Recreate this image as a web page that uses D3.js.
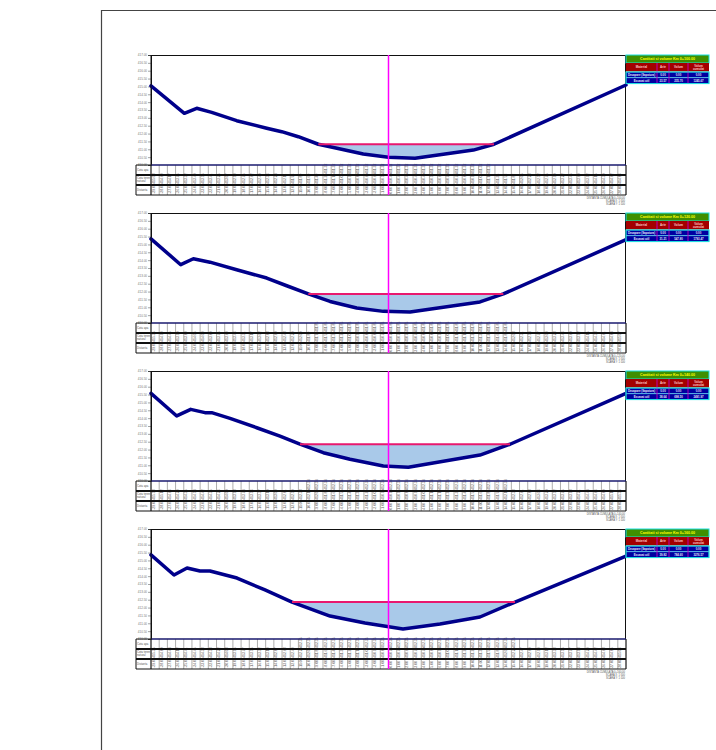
<!DOCTYPE html>
<html><head><meta charset="utf-8">
<script src="https://cdn.jsdelivr.net/npm/d3@7"></script>
<style>body{margin:0;background:#fff}svg{display:block;font-family:"Liberation Sans",Arial,sans-serif}</style>
</head><body>
<svg id="sheet" width="716" height="750"></svg>
<script>
// Cross-section stations (m from axis) and elevation ticks (m)
const stations = d3.range(-29, 30, 1);
const elevTicks = [410.0, 410.5, 411.0, 411.5, 412.0, 412.5, 413.0, 413.5, 414.0, 414.5, 415.0, 415.5, 416.0, 416.5, 417.0];

// Ground profiles, one per section
const dist1 = [-29, -24.93, -23.42, -21.59, -18.54, -14.87, -13.04, -11.01, -8.57, -7.14, -3.08, 0.0, 3.24, 10.36, 12.88, 29];
const elev1 = [415.03, 413.29, 413.61, 413.35, 412.82, 412.34, 412.12, 411.80, 411.32, 411.16, 410.70, 410.49, 410.43, 410.95, 411.32, 415.09];
const dist2 = [-29, -25.37, -23.83, -21.80, -18.54, -14.87, -12.43, -9.79, -7.14, -3.88, -0.63, 2.63, 11.17, 14.02, 29];
const elev2 = [415.35, 413.71, 414.09, 413.87, 413.39, 412.86, 412.37, 411.85, 411.37, 410.95, 410.74, 410.70, 411.34, 411.85, 415.30];
const dist3 = [-29, -25.86, -24.15, -22.41, -21.59, -19.35, -16.09, -13.25, -10.81, -7.96, -4.70, -0.63, 2.42, 11.17, 14.84, 29];
const elev3 = [415.58, 414.14, 414.56, 414.35, 414.35, 413.99, 413.39, 412.86, 412.34, 411.80, 411.38, 410.95, 410.87, 411.65, 412.34, 415.58];
const dist4 = [-29, -26.19, -24.60, -23.02, -21.80, -18.50, -15.08, -11.78, -7.14, -2.87, 1.77, 6.29, 11.17, 15.45, 29];
const elev4 = [415.35, 414.07, 414.52, 414.33, 414.33, 413.88, 413.12, 412.35, 411.46, 411.02, 410.64, 410.95, 411.40, 412.35, 415.28];

// Water level and its extent for each section
const waterLevel = [411.32, 411.85, 412.34, 412.35];
const waterFrom = [-8.57, -9.79, -10.81, -11.78];
const waterTo = [12.88, 14.02, 14.84, 15.45];

// Quantities table
const chainage = ["0+100.00", "0+120.00", "0+140.00", "0+160.00"];
const qtyHeader = ["Material", "Arie", "Volum", "Volum cumulat"];
const stripArea = ["0.00", "0.00", "0.00", "0.00"];
const stripVol = ["0.00", "0.00", "0.00", "0.00"];
const stripCum = ["0.00", "0.00", "0.00", "0.00"];
const cutArea = ["23.57", "31.21", "38.64", "39.82"];
const cutVol = ["235.70", "547.80", "698.50", "784.60"];
const cutCum = ["1245.67", "1793.47", "2491.97", "3276.57"];
const rowLabels = [["Cota apa"], ["Cota teren", "natural"], ["Distanta"]];

const sections = [
  {dist: dist1, elev: elev1},
  {dist: dist2, elev: elev2},
  {dist: dist3, elev: elev3},
  {dist: dist4, elev: elev4}
];

const svg = d3.select("#sheet");

// sheet frame
svg.append("path").attr("d", "M101.5,750V10.5H716")
  .attr("fill", "none").attr("stroke", "#444").attr("stroke-width", 1.2);

const X0 = 151, X1 = 626, PLOT_H = 110, ROW_H = 10, LABEL_X = 136;
const panelTops = [55, 213, 371, 529];

function groundAt(d, e, s) {
  for (let k = 0; k < d.length - 1; k++) {
    if (s >= d[k] && s <= d[k + 1]) {
      const t = (s - d[k]) / (d[k + 1] - d[k]);
      return e[k] + t * (e[k + 1] - e[k]);
    }
  }
  return s < d[0] ? e[0] : e[e.length - 1];
}

sections.forEach((sec, i) => {
  const top = panelTops[i];
  const g = svg.append("g");
  const x = d3.scaleLinear().domain([stations[0], stations[stations.length - 1]]).range([X0, X1]);
  const y = d3.scaleLinear().domain([elevTicks[0], elevTicks[elevTicks.length - 1]]).range([top + PLOT_H, top]);
  const wl = waterLevel[i], ws = waterFrom[i], we = waterTo[i];
  const bottom = top + PLOT_H;

  // water body
  const poly = [[ws, wl]];
  sec.dist.forEach((d, k) => { if (d > ws && d < we) poly.push([d, sec.elev[k]]); });
  poly.push([we, wl]);
  g.append("path")
    .attr("d", d3.line().x(p => x(p[0])).y(p => y(p[1]))(poly) + "Z")
    .attr("fill", "#a9c9e9");

  // plot frame: top and right
  g.append("path").attr("d", `M${X0},${top + 0.5}H${X1 - 0.5}V${bottom}`)
    .attr("fill", "none").attr("stroke", "#111").attr("stroke-width", 1);

  // elevation axis
  const ax = g.append("g").attr("transform", `translate(${X0},0)`)
    .call(d3.axisLeft(y).tickValues(elevTicks).tickSize(3).tickPadding(1).tickFormat(d3.format(".2f")));
  ax.select(".domain").attr("stroke", "#111");
  ax.selectAll(".tick line").attr("stroke", "#666").attr("stroke-width", 0.6);
  ax.selectAll(".tick text").attr("font-size", 3).attr("fill", "#777").attr("font-family", "Liberation Sans, Arial");

  // ground profile
  g.append("path")
    .datum(sec.dist.map((d, k) => [d, sec.elev[k]]))
    .attr("d", d3.line().x(p => x(p[0])).y(p => y(p[1])))
    .attr("fill", "none").attr("stroke", "#00008b").attr("stroke-width", 3.5)
    .attr("stroke-linejoin", "round").attr("stroke-linecap", "round");

  // water surface
  g.append("line")
    .attr("x1", x(ws)).attr("x2", x(we)).attr("y1", y(wl)).attr("y2", y(wl))
    .attr("stroke", "#e8196e").attr("stroke-width", 2);

  // band table under the profile
  const r = [bottom, bottom + ROW_H, bottom + 2 * ROW_H, bottom + 3 * ROW_H];
  const tb = g.append("g");
  stations.forEach(s => {
    tb.append("line").attr("x1", x(s)).attr("x2", x(s)).attr("y1", r[0]).attr("y2", r[3])
      .attr("stroke", "#999").attr("stroke-width", 0.8);
  });
  const cellText = (s, row, txt) => {
    const tx = x(s) + 3.6, ty = r[row + 1] - 1.2;
    tb.append("text").attr("transform", `translate(${tx},${ty}) rotate(-90)`)
      .attr("font-size", 3.4).attr("fill", "#555").text(txt);
  };
  stations.slice(0, -1).forEach(s => {
    if (s >= ws && s <= we) cellText(s, 0, wl.toFixed(2));
    cellText(s, 1, groundAt(sec.dist, sec.elev, s).toFixed(2));
    cellText(s, 2, s.toFixed(2));
  });
  tb.append("line").attr("x1", LABEL_X).attr("x2", X0).attr("y1", r[0]).attr("y2", r[0])
    .attr("stroke", "#111").attr("stroke-width", 1);
  tb.append("line").attr("x1", X0).attr("x2", X1).attr("y1", r[0]).attr("y2", r[0])
    .attr("stroke", "#1a1a6e").attr("stroke-width", 1.5);
  [1, 2].forEach(k => tb.append("line").attr("x1", LABEL_X).attr("x2", X1).attr("y1", r[k]).attr("y2", r[k])
    .attr("stroke", "#111").attr("stroke-width", 2));
  tb.append("line").attr("x1", LABEL_X).attr("x2", X1).attr("y1", r[3]).attr("y2", r[3])
    .attr("stroke", "#111").attr("stroke-width", 1.2);
  [LABEL_X, X0, X1].forEach(vx => tb.append("line").attr("x1", vx).attr("x2", vx)
    .attr("y1", vx === X0 ? top : r[0]).attr("y2", r[3]).attr("stroke", "#111").attr("stroke-width", 1));
  rowLabels.forEach((lines, k) => {
    lines.forEach((ln, j) => {
      tb.append("text").attr("x", LABEL_X + 1).attr("y", r[k] + 5.5 + (j - (lines.length - 1) / 2) * 3)
        .attr("font-size", 2.8).attr("fill", "#555").text(ln);
    });
  });

  // section axis
  g.append("line").attr("x1", x(0)).attr("x2", x(0)).attr("y1", top).attr("y2", r[3])
    .attr("stroke", "#ff00ff").attr("stroke-width", 1.5);

  // quantities box
  const qx = X1;
  const cx = [qx, qx + 31, qx + 43, qx + 62, qx + 83];
  const qt = g.append("g");
  qt.append("rect").attr("x", qx).attr("y", top).attr("width", 83).attr("height", 8)
    .attr("fill", "#3f8f00").attr("stroke", "#19e0e0").attr("stroke-width", 1);
  qt.append("text").attr("x", qx + 41.5).attr("y", top + 5.3).attr("text-anchor", "middle")
    .attr("font-size", 3.6).attr("font-weight", "bold").attr("fill", "#ffff00")
    .text("Cantitati si volume Km " + chainage[i]);
  qt.append("rect").attr("x", qx).attr("y", top + 8).attr("width", 83).attr("height", 8.5)
    .attr("fill", "#a30000");
  qtyHeader.forEach((h, k) => {
    const mid = (cx[k] + cx[k + 1]) / 2;
    if (k === 3) {
      ["Volum", "cumulat"].forEach((t, j) => qt.append("text").attr("x", mid).attr("y", top + 11.6 + j * 3.2)
        .attr("text-anchor", "middle").attr("font-size", 2.9).attr("font-weight", "bold").attr("fill", "#ffc8c8").text(t));
    } else {
      qt.append("text").attr("x", mid).attr("y", top + 13.3).attr("text-anchor", "middle")
        .attr("font-size", 3).attr("font-weight", "bold").attr("fill", "#ffc8c8").text(h);
    }
  });
  qt.append("line").attr("x1", qx).attr("x2", qx + 83).attr("y1", top + 16.7).attr("y2", top + 16.7)
    .attr("stroke", "#b89060").attr("stroke-width", 0.8);
  const dataRows = [
    ["Decapare (Sapatura)", stripArea[i], stripVol[i], stripCum[i]],
    ["Excavat util", cutArea[i], cutVol[i], cutCum[i]]
  ];
  dataRows.forEach((row, j) => {
    const ry = top + 17 + j * 5.8;
    qt.append("rect").attr("x", qx).attr("y", ry).attr("width", 83).attr("height", 5.6)
      .attr("fill", "#0000a0").attr("stroke", "#5ad0f0").attr("stroke-width", 0.6);
    row.forEach((t, k) => qt.append("text").attr("x", (cx[k] + cx[k + 1]) / 2).attr("y", ry + 4)
      .attr("text-anchor", "middle").attr("font-size", 2.8).attr("font-weight", "bold").attr("fill", "#e8e8ff").text(t));
  });
  [1, 2, 3].forEach(k => qt.append("line").attr("x1", cx[k]).attr("x2", cx[k])
    .attr("y1", top + 8).attr("y2", top + 28.6).attr("stroke", "#c000c0").attr("stroke-width", 0.9));
  qt.append("rect").attr("x", qx).attr("y", top + 17).attr("width", 83).attr("height", 11.6)
    .attr("fill", "none").attr("stroke", "#19e0e0").attr("stroke-width", 1);

  // caption under the band table
  const caps = ["DISTANTA CUMULATA " + chainage[i], "SCARA X: 1:500", "SCARA Y: 1:100"];
  caps.forEach((c, k) => g.append("text").attr("x", X1 - 1).attr("y", r[3] + 4 + k * 2.8)
    .attr("text-anchor", "end").attr("font-size", 2.6).attr("fill", "#555").text(c));
});
</script>
</body></html>
